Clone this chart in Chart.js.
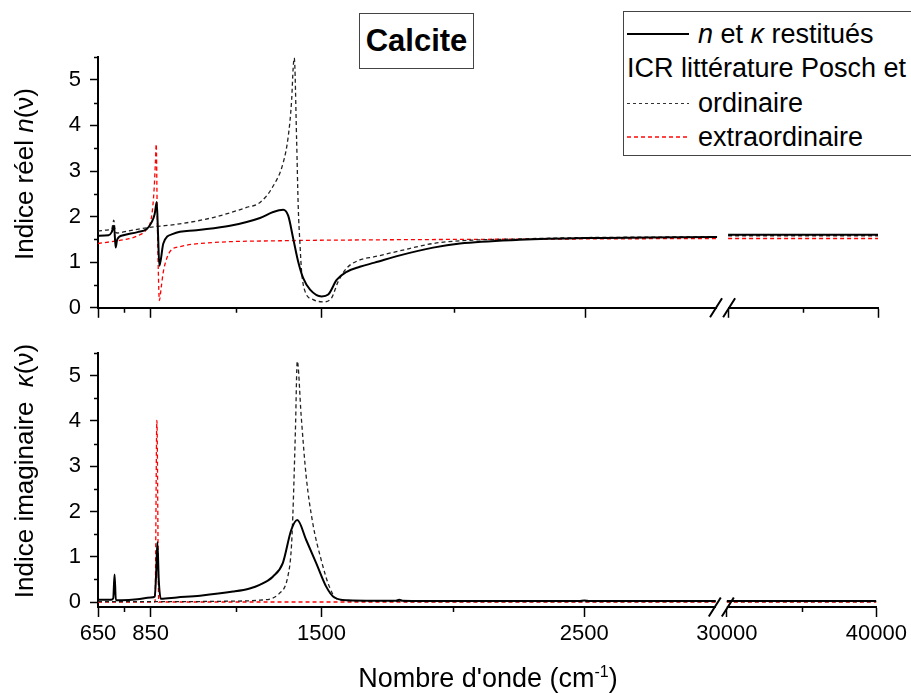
<!DOCTYPE html>
<html>
<head>
<meta charset="utf-8">
<script src="https://cdn.jsdelivr.net/npm/chart.js@4.4.1/dist/chart.umd.min.js"></script>
<style>
  body { margin: 0; background: #fff; overflow: hidden; font-family: Arial, "Liberation Sans", sans-serif; color: #000; }
  #wrap { position: relative; width: 911px; height: 693px; overflow: hidden; }
  canvas { position: absolute; left: 0; }
  #topChart { top: 0; }
  #bottomChart { top: 330px; }
  .box { position: absolute; border: 1px solid #444; background: #fff; }
  #calcite { left: 359px; top: 13px; width: 113px; height: 54px; font-weight: bold; font-size: 31px; line-height: 54px; text-align: center; }
  #legend { left: 623px; top: 11px; width: 320px; height: 143px; font-size: 27px; }
  .row { position: absolute; left: 0; height: 34px; line-height: 34px; white-space: nowrap; }
  .row .txt { position: absolute; left: 74px; }
  .sample { position: absolute; left: 3px; width: 62px; top: 17px; }
  .solid { height: 2px; background: #000; margin-top: -1px; }
  .dashBlack { height: 1px; background: repeating-linear-gradient(90deg, #333 0 3px, transparent 3px 6px); }
  .dashRed { height: 2px; margin-top: -1px; background: repeating-linear-gradient(90deg, #f44 0 4px, transparent 4px 7px); }
  .ytitle { position: absolute; white-space: nowrap; font-size: 26px; transform: translate(-50%, -50%) rotate(-90deg); }
  #xtitle { position: absolute; left: 488px; top: 656px; transform: translateX(-50%); font-size: 27px; line-height: 32px; white-space: nowrap; }
  #xtitle sup { font-size: 16px; }
</style>
</head>
<body>
<div id="wrap">
  <canvas id="topChart" width="911" height="330"></canvas>
  <canvas id="bottomChart" width="911" height="363"></canvas>

  <div class="ytitle" style="left:24px; top:174px;">Indice réel <i>n</i>(ν)</div>
  <div class="ytitle" style="left:24px; top:471px;">Indice imaginaire&nbsp; <i>κ</i>(ν)</div>
  <div id="xtitle">Nombre d'onde (cm<sup>-1</sup>)</div>

  <div id="calcite" class="box">Calcite</div>
  <div id="legend" class="box">
    <div class="row" style="top:5px;"><div class="sample solid"></div><span class="txt"><i>n</i> et <i>κ</i> restitués</span></div>
    <div class="row" style="top:39px;"><span class="txt" style="left:3px;">ICR littérature Posch et al.</span></div>
    <div class="row" style="top:74px;"><div class="sample dashBlack"></div><span class="txt">ordinaire</span></div>
    <div class="row" style="top:108px;"><div class="sample dashRed"></div><span class="txt">extraordinaire</span></div>
  </div>
</div>

<script>
// wavenumber axis (cm-1), broken between 3000 and 30000
const majorTicks = [650, 850, 1500, 2500, 30000, 40000];
const minorTicks = [750, 1175, 2000, 35000];
const yTicks = [0, 1, 2, 3, 4, 5];
const yMinorTicks = [0.5, 1.5, 2.5, 3.5, 4.5, 5.5];
const farNu = [30000, 35000, 40000];

// real index n
const nFitNu = [650, 690, 702, 711, 717, 723, 746, 800, 835, 854, 865, 873, 878, 883, 898, 935, 1024, 1151, 1265, 1315, 1353, 1372, 1391, 1410, 1429, 1455, 1499, 1524, 1556, 1594, 1644, 1700, 1796, 1922, 2024, 2250, 2500, 2750, 3000];
const nFitVal = [1.58, 1.59, 1.66, 1.80, 1.32, 1.50, 1.59, 1.66, 1.73, 1.88, 2.05, 2.32, 1.60, 0.92, 1.41, 1.62, 1.70, 1.80, 1.97, 2.10, 2.15, 2.02, 1.52, 1.01, 0.65, 0.40, 0.25, 0.29, 0.61, 0.79, 0.90, 0.99, 1.15, 1.32, 1.41, 1.49, 1.53, 1.54, 1.55];
const nFitFar = [1.60, 1.60, 1.60];

const nOrdNu = [650, 690, 702, 710, 716, 722, 760, 854, 960, 1087, 1214, 1265, 1315, 1353, 1372, 1385, 1391, 1395, 1404, 1410, 1417, 1423, 1436, 1467, 1505, 1537, 1562, 1594, 1644, 1700, 1796, 1922, 2024, 2250, 2500, 2750, 3000];
const nOrdVal = [1.68, 1.71, 1.73, 1.92, 1.66, 1.64, 1.68, 1.77, 1.84, 1.98, 2.20, 2.31, 2.67, 3.18, 3.75, 4.55, 5.27, 5.48, 3.68, 2.24, 1.37, 0.79, 0.36, 0.18, 0.13, 0.22, 0.58, 0.87, 1.05, 1.12, 1.25, 1.41, 1.47, 1.51, 1.54, 1.55, 1.56];
const nOrdFar = [1.58, 1.58, 1.58];

const nExtNu = [650, 700, 746, 800, 835, 854, 863, 868, 871, 875, 879, 883, 890, 898, 923, 960, 1087, 1340, 1700, 2024, 2500, 3000];
const nExtVal = [1.41, 1.45, 1.49, 1.58, 1.73, 2.02, 2.60, 3.20, 3.59, 2.00, 0.80, 0.16, 0.45, 0.79, 1.23, 1.34, 1.43, 1.47, 1.49, 1.50, 1.51, 1.52];
const nExtFar = [1.52, 1.52, 1.52];

// imaginary index kappa
const kFitNu = [650, 700, 708, 713, 718, 740, 800, 850, 866, 871, 876, 881, 889, 950, 1038, 1164, 1227, 1265, 1315, 1353, 1385, 1408, 1442, 1480, 1518, 1549, 1600, 1700, 1784, 1796, 1808, 2000, 2480, 2500, 2520, 3000];
const kFitVal = [0.05, 0.05, 0.08, 0.61, 0.04, 0.04, 0.06, 0.10, 0.12, 0.60, 1.32, 0.50, 0.07, 0.10, 0.14, 0.23, 0.30, 0.38, 0.56, 0.86, 1.59, 1.81, 1.37, 0.86, 0.34, 0.10, 0.04, 0.03, 0.03, 0.05, 0.03, 0.02, 0.02, 0.035, 0.02, 0.02];
const kFitFar = [0.02, 0.02, 0.02];

const kOrdNu = [650, 1000, 1164, 1265, 1340, 1372, 1385, 1391, 1401, 1408, 1423, 1442, 1467, 1499, 1530, 1556, 1600, 2000, 3000];
const kOrdVal = [0.01, 0.01, 0.02, 0.04, 0.19, 0.56, 1.15, 1.89, 3.80, 5.32, 4.10, 2.77, 1.74, 0.93, 0.34, 0.08, 0.03, 0.01, 0.01];
const kOrdFar = [0.01, 0.01, 0.01];

const kExtNu = [650, 867, 874, 881, 3000];
const kExtVal = [0, 0, 4.01, 0, 0];
const kExtFar = [0, 0, 0];

// broken axis mapping
const BREAK_LO = 3000, BREAK_HI = 30000;
const GAP = 42;          // axis units left blank at the break
const FAR_SCALE = 0.0569; // compression of the 30000-40000 part
function toAxis(nu) {
  return nu <= BREAK_LO ? nu : BREAK_LO + GAP + (nu - BREAK_HI) * FAR_SCALE;
}

function buildSeries(nu, val, far) {
  const pts = nu.map((n, i) => ({ x: toAxis(n), y: val[i] }));
  pts.push({ x: BREAK_LO + GAP / 2, y: null }); // gap at the break
  farNu.forEach((n, i) => pts.push({ x: toAxis(n), y: far[i] }));
  return pts;
}

function line(label, data, color, dashed) {
  return {
    label: label,
    data: data,
    borderColor: color,
    borderWidth: dashed ? 1.3 : 2,
    borderDash: dashed ? [4, 3] : [],
    pointRadius: 0,
    cubicInterpolationMode: 'monotone',
    spanGaps: false
  };
}

// minor ticks + axis break marks
const axisExtras = {
  id: 'axisExtras',
  afterDraw(chart) {
    const { ctx, chartArea, scales } = chart;
    const x = scales.x, y = scales.y;
    ctx.save();
    ctx.strokeStyle = '#000';
    ctx.lineWidth = 1.5;
    ctx.beginPath();
    minorTicks.forEach(t => {
      const px = Math.round(x.getPixelForValue(toAxis(t))) + 0.5;
      ctx.moveTo(px, chartArea.bottom);
      ctx.lineTo(px, chartArea.bottom + 5);
    });
    yMinorTicks.forEach(v => {
      const py = Math.round(y.getPixelForValue(v)) + 0.5;
      ctx.moveTo(chartArea.left, py);
      ctx.lineTo(chartArea.left - 4, py);
    });
    ctx.stroke();

    const b1 = x.getPixelForValue(toAxis(BREAK_LO));
    const b2 = x.getPixelForValue(toAxis(BREAK_HI));
    const yb = chartArea.bottom;
    ctx.fillStyle = '#fff';
    ctx.fillRect(b1, yb - 3, b2 - b1, 6);
    ctx.lineWidth = 2;
    ctx.beginPath();
    [b1 - 1, b2 + 1].forEach(cx => {
      ctx.moveTo(cx - 6, yb + 9.5);
      ctx.lineTo(cx + 6, yb - 9.5);
    });
    ctx.stroke();
    ctx.restore();
  }
};

Chart.defaults.font.family = 'Arial, "Liberation Sans", sans-serif';
Chart.defaults.color = '#000';

function makePanel(canvasId, datasets, yMin, showLabels, padTop, xHeight) {
  return new Chart(document.getElementById(canvasId), {
    type: 'line',
    data: { datasets: datasets },
    options: {
      responsive: false,
      animation: false,
      layout: { padding: { top: padTop, right: 33, left: 0, bottom: 0 } },
      plugins: { legend: { display: false }, tooltip: { enabled: false } },
      scales: {
        x: {
          type: 'linear',
          min: toAxis(650),
          max: toAxis(40000),
          afterBuildTicks: s => { s.ticks = majorTicks.map(t => ({ value: toAxis(t) })); },
          afterFit: s => { s.height = xHeight; },
          ticks: {
            display: showLabels,
            autoSkip: false,
            maxRotation: 0,
            padding: 4,
            font: { size: 22 },
            callback: (v, i) => String(majorTicks[i])
          },
          grid: { drawOnChartArea: false, drawTicks: true, tickLength: 10, tickWidth: 1.5, tickColor: '#000' },
          border: { display: true, color: '#000', width: 2 }
        },
        y: {
          min: yMin,
          max: 5.5,
          afterBuildTicks: s => { s.ticks = yTicks.map(v => ({ value: v })); },
          afterFit: s => { s.width = 98; },
          ticks: { padding: 9, font: { size: 22 } },
          grid: { drawOnChartArea: false, drawTicks: true, tickLength: 8, tickWidth: 1.5, tickColor: '#000' },
          border: { display: true, color: '#000', width: 2 }
        }
      }
    },
    plugins: [axisExtras]
  });
}

makePanel('topChart', [
  line('n restitué', buildSeries(nFitNu, nFitVal, nFitFar), '#000', false),
  line('ordinaire', buildSeries(nOrdNu, nOrdVal, nOrdFar), '#222', true),
  line('extraordinaire', buildSeries(nExtNu, nExtVal, nExtFar), '#ff0000', true)
], 0, false, 57, 20);

makePanel('bottomChart', [
  line('κ restitué', buildSeries(kFitNu, kFitVal, kFitFar), '#000', false),
  line('ordinaire', buildSeries(kOrdNu, kOrdVal, kOrdFar), '#222', true),
  line('extraordinaire', buildSeries(kExtNu, kExtVal, kExtFar), '#ff0000', true)
], -0.11, true, 23, 86);
</script>
</body>
</html>
